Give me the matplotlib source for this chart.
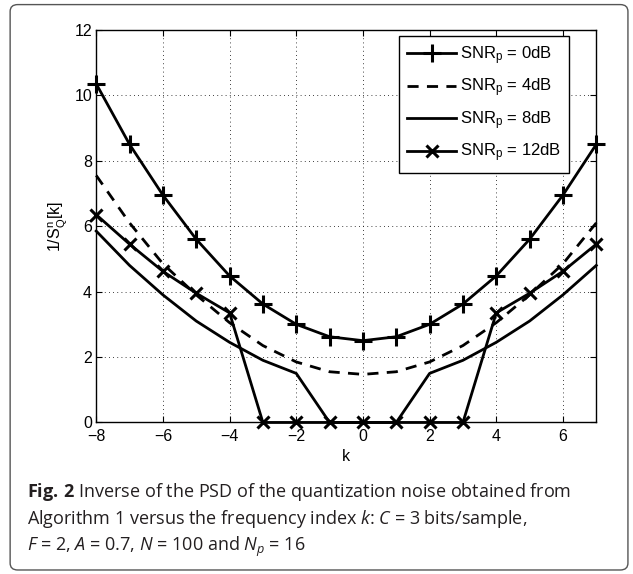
import numpy as np
import matplotlib.pyplot as plt
from matplotlib.patches import FancyBboxPatch

plt.rcParams['font.family'] = 'Liberation Sans'
plt.rcParams['mathtext.fontset'] = 'custom'
plt.rcParams['mathtext.rm'] = 'Liberation Sans'
plt.rcParams['mathtext.it'] = 'Open Sans:italic'
plt.rcParams['mathtext.bf'] = 'Open Sans:bold'

# ---- data ----
k = [-8, -7, -6, -5, -4, -3, -2, -1, 0, 1, 2, 3, 4, 5, 6, 7]
snr0 = [10.35, 8.5, 6.95, 5.6, 4.48, 3.62, 3.0, 2.62, 2.5, 2.62, 3.0, 3.62, 4.48, 5.6, 6.95, 8.5]
snr4 = [7.55, 6.1, 4.85, 3.9, 3.05, 2.35, 1.85, 1.55, 1.47, 1.55, 1.85, 2.35, 3.05, 3.9, 4.85, 6.1]
snr8 = [5.85, 4.8, 3.9, 3.1, 2.45, 1.9, 1.5, 0, 0, 0, 1.5, 1.9, 2.45, 3.1, 3.9, 4.8]
snr12 = [6.35, 5.45, 4.62, 3.95, 3.35, 0, 0, 0, 0, 0, 0, 0, 3.35, 3.95, 4.62, 5.45]
labels = [r'SNR$_{\rm p}$ = 0dB', r'SNR$_{\rm p}$ = 4dB',
          r'SNR$_{\rm p}$ = 8dB', r'SNR$_{\rm p}$ = 12dB']

fig = plt.figure(figsize=(6.33, 5.74), dpi=100)
ax = fig.add_axes([0.152, 0.264, 0.790, 0.684])

lw = 2.0
ax.plot(k, snr0, 'k-', marker='+', ms=13, mew=2.2, lw=lw, label=labels[0], clip_on=False)
ax.plot(k, snr4, 'k--', lw=lw, dashes=(4, 3), label=labels[1], clip_on=False)
ax.plot(k, snr8, 'k-', lw=lw, label=labels[2], clip_on=False)
ax.plot(k, snr12, 'k-', marker='x', ms=9, mew=2.2, lw=lw, label=labels[3], clip_on=False)

ax.set_xlim(-8, 7)
ax.set_ylim(0, 12)
ax.set_xticks(np.arange(-8, 7, 2))
ax.set_yticks(np.arange(0, 13, 2))
ax.set_xticklabels([str(t).replace('-', '\u2212') for t in range(-8, 7, 2)])
ax.tick_params(direction='in', top=True, right=True, labelsize=11.5, length=4)
ax.tick_params(axis='x', pad=5)
ax.tick_params(axis='y', pad=3)
ax.grid(True, color='k', linestyle=(0, (1, 4)), linewidth=0.6)
for s in ax.spines.values():
    s.set_linewidth(1.0)
ax.set_xlabel('k', fontsize=11.5, labelpad=3)
ax.set_ylabel(r'1/S$_{\rm Q}^{\rm n}$[k]', fontsize=11.5, labelpad=4)

leg = ax.legend(loc='upper right', fontsize=12, handlelength=2.9, borderpad=0.5,
                labelspacing=0.6, handletextpad=0.25, borderaxespad=0, fancybox=False,
                framealpha=1, edgecolor='k', bbox_to_anchor=(0.946, 0.985))
leg.get_frame().set_linewidth(1.0)

# caption
cap = dict(fontsize=13, family='Open Sans', color='#231f20', va='baseline')
fig.text(0.043, 1 - 497 / 574, r'$\bf{Fig.\,2}$ Inverse of the PSD of the quantization noise obtained from', **cap)
fig.text(0.043, 1 - 524 / 574, r'Algorithm 1 versus the frequency index $k$: $C$ = 3 bits/sample,', **cap)
fig.text(0.043, 1 - 551 / 574, r'$F$ = 2, $A$ = 0.7, $N$ = 100 and $N_p$ = 16', **cap)

box = FancyBboxPatch((0.016, 0.007), 0.976, 0.985, boxstyle='round,pad=0,rounding_size=0.012',
                     transform=fig.transFigure, fill=False, edgecolor='#555555', linewidth=1.0)
fig.patches.append(box)

fig.savefig('out.png', dpi=100)
